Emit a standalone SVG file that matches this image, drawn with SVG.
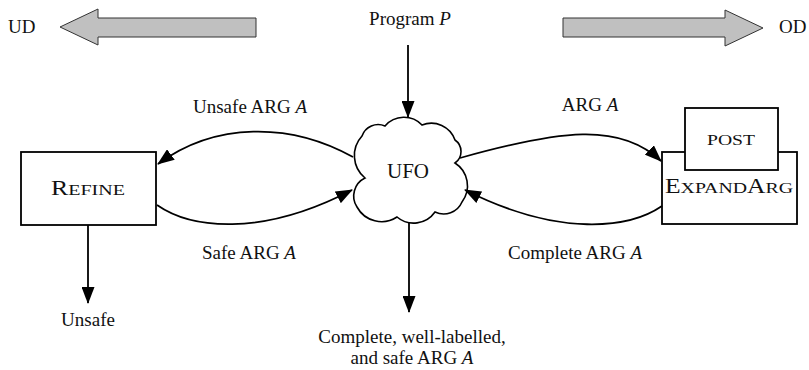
<svg xmlns="http://www.w3.org/2000/svg" width="809" height="370" viewBox="0 0 809 370">
<style>
  text { font-family: "Liberation Serif", "Times New Roman", serif; fill: #111; }
  .lbl { font-size: 19px; }
  .mid { text-anchor: middle; }
  .conn { fill: none; stroke: #000; stroke-width: 1.8; marker-end: url(#ah); }
  .box { fill: #fff; stroke: #000; stroke-width: 1.8; }
  .big { font-size: 20px; }
  .sc { font-size: 15.5px; }
  .gray { fill: #c0c0c0; stroke: #333; stroke-width: 1; }
</style>
<defs>
  <marker id="ah" markerWidth="17" markerHeight="13" refX="16" refY="6.5" orient="auto" markerUnits="userSpaceOnUse">
    <path d="M0,0 L17,6.5 L0,13 Z" fill="#000"/>
  </marker>
</defs>
<rect width="809" height="370" fill="#fff"/>

<g id="ud">
  <polygon class="gray" points="60,27 98,9 98,18 256,18 256,37 98,37 98,45"/>
  <text class="lbl" x="8" y="33">UD</text>
</g>
<g id="od">
  <polygon class="gray" points="763,28 725,10 725,18 563,18 563,37 725,37 725,46"/>
  <text class="lbl" x="779" y="33">OD</text>
</g>

<g id="program">
  <text class="lbl mid" x="410" y="25">Program <tspan font-style="italic">P</tspan></text>
</g>

<g id="ufo">
  <path d="M365,178 A29,29 0 0 1 362,136 A17,17 0 0 1 385,126 A25,25 0 0 1 422,125 A25,25 0 0 1 455,140 A14,14 0 0 1 455,163 A27,27 0 0 1 462,202 A20,20 0 0 1 435,212 A26,26 0 0 1 397,217 A28,28 0 0 1 357,207 A20,20 0 0 1 365,178 Z" fill="#fff" stroke="#000" stroke-width="1.6"/>
  <text class="mid" x="408" y="178" font-size="21">UFO</text>
</g>

<g id="refine">
  <rect class="box" x="21" y="152" width="135" height="73"/>
  <text class="mid" x="88" y="195" textLength="74" lengthAdjust="spacingAndGlyphs"><tspan class="big">R</tspan><tspan class="sc">EFINE</tspan></text>
</g>

<g id="expandarg">
  <rect class="box" x="662" y="152" width="135" height="72"/>
  <text class="mid" x="729" y="193" textLength="128" lengthAdjust="spacingAndGlyphs"><tspan class="big">E</tspan><tspan class="sc">XPAND</tspan><tspan class="big">A</tspan><tspan class="sc">RG</tspan></text>
</g>
<g id="post">
  <rect class="box" x="685" y="108" width="93" height="62"/>
  <text class="mid sc" x="731" y="145" textLength="48" lengthAdjust="spacingAndGlyphs">POST</text>
</g>

<g id="unsafe">
  <text class="lbl mid" x="88" y="326">Unsafe</text>
</g>
<g id="result">
  <text class="lbl mid" x="412" y="343">Complete, well-labelled,</text>
  <text class="lbl mid" x="412" y="364">and safe ARG <tspan font-style="italic">A</tspan></text>
</g>

<g id="connectors">
  <path class="conn" d="M408,45 L408,117"/>
  <path class="conn" d="M409,223 L409,312"/>
  <path class="conn" d="M88,225 L88,303"/>
  <path class="conn" d="M353,157 C290,122 215,122 158,164"/>
  <path class="conn" d="M157,205 C190,228 260,238 352,190"/>
  <path class="conn" d="M460,158 C560,130 620,122 661,161"/>
  <path class="conn" d="M662,206 C630,228 560,238 465,190"/>
  <text class="lbl mid" x="250" y="113">Unsafe ARG <tspan font-style="italic">A</tspan></text>
  <text class="lbl mid" x="590" y="111">ARG <tspan font-style="italic">A</tspan></text>
  <text class="lbl mid" x="249" y="259">Safe ARG <tspan font-style="italic">A</tspan></text>
  <text class="lbl mid" x="575" y="259">Complete ARG <tspan font-style="italic">A</tspan></text>
</g>
</svg>
